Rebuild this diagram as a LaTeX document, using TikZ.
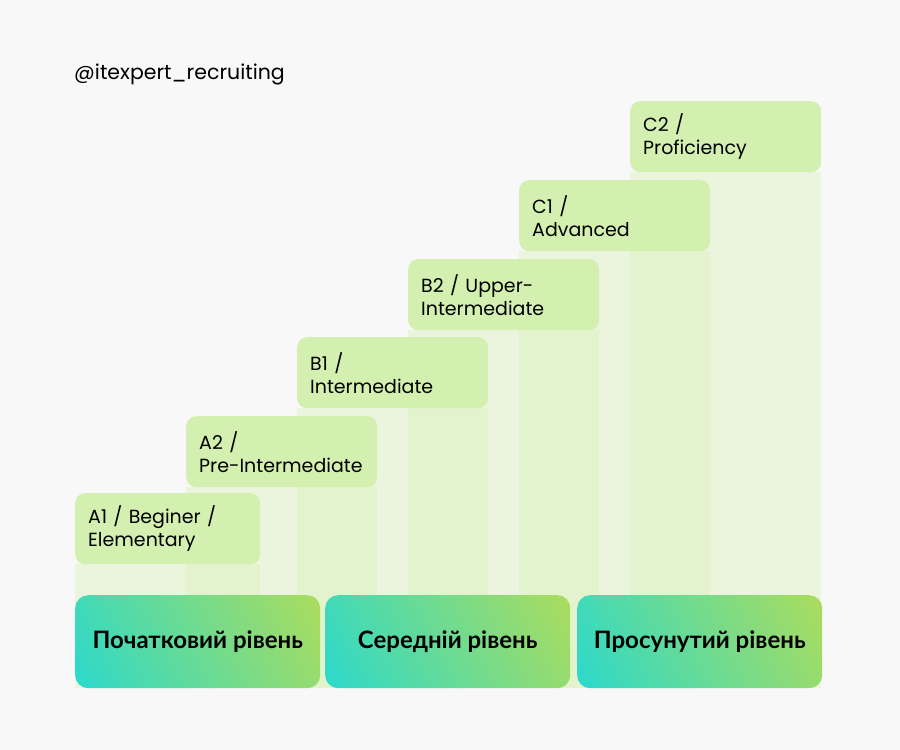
\documentclass[tikz,border=0pt]{standalone}
\usepackage{fontspec}
\setmainfont{Poppins}
\newfontfamily\cyrfont{Lato}
\usetikzlibrary{positioning,calc}
\definecolor{bgcol}{HTML}{F8F8F8}
\definecolor{levelcol}{HTML}{D4F0B0}
\definecolor{gradcyan}{HTML}{1CD8DC}
\definecolor{gradteal}{HTML}{4EDAAC}
\definecolor{gradgreen}{HTML}{A8DC60}
\pgfdeclarehorizontalshading{stagegrad}{100bp}{color(0bp)=(gradcyan); color(8bp)=(gradcyan);
	color(34bp)=(gradteal); color(82bp)=(gradgreen); color(100bp)=(gradgreen)}
\pgfdeclarelayer{bg}
\pgfdeclarelayer{cols}
\pgfsetlayers{bg,cols,main}

\begin{document}
\begin{tikzpicture}[x=1pt,y=-1pt,
	level/.style={fill=levelcol, rounded corners=10pt, anchor=north west,
		minimum height=71pt, text width=165pt, inner xsep=13pt, align=left,
		font=\fontsize{19}{23}\selectfont},
	column/.style={fill=levelcol, opacity=.35},
	stage/.style={rounded corners=13pt, anchor=north west, minimum width=245pt,
		minimum height=93pt, shade, shading=stagegrad, shading angle=28,
		font=\cyrfont\bfseries\fontsize{24}{28}\selectfont}]
			\begin{pgfonlayer}{bg}
				\fill[bgcol] (0,0) rectangle (900,750);
			\end{pgfonlayer}
			\useasboundingbox (0,0) rectangle (900,750);
			
			\coordinate (base) at (0,688);
			
			\node[anchor=base west, inner sep=0pt, font=\fontsize{20.5}{24}\selectfont] (handle) at (74,79) {@itexpert\_recruiting};
			
			% level boxes
			\node[level, text width=159pt] (A1) at (75,493) {A1 / Beginer /\\Elementary};
			\node[level] (A2) at (186,416) {A2 /\\Pre-Intermediate};
			\node[level] (B1) at (297,337) {B1 /\\Intermediate};
			\node[level] (B2) at (408,259) {B2 / Upper-\\Intermediate};
			\node[level] (C1) at (519,180) {C1 /\\Advanced};
			\node[level] (C2) at (630,101) {C2 /\\Proficiency};
			
			% columns under the boxes
			\begin{pgfonlayer}{cols}
			\foreach \lv in {A1,A2,B1,B2,C1,C2}
				\fill[column] (\lv.south west) rectangle (\lv.south east |- base);
			\end{pgfonlayer}
			
			% stages
			\node[stage] (start) at (75,595) {Початковий рівень};
			\node[stage] (middle) at (325,595) {Середній рівень};
			\node[stage] (adv) at (577,595) {Просунутий рівень};
		\end{tikzpicture}
\end{document}
